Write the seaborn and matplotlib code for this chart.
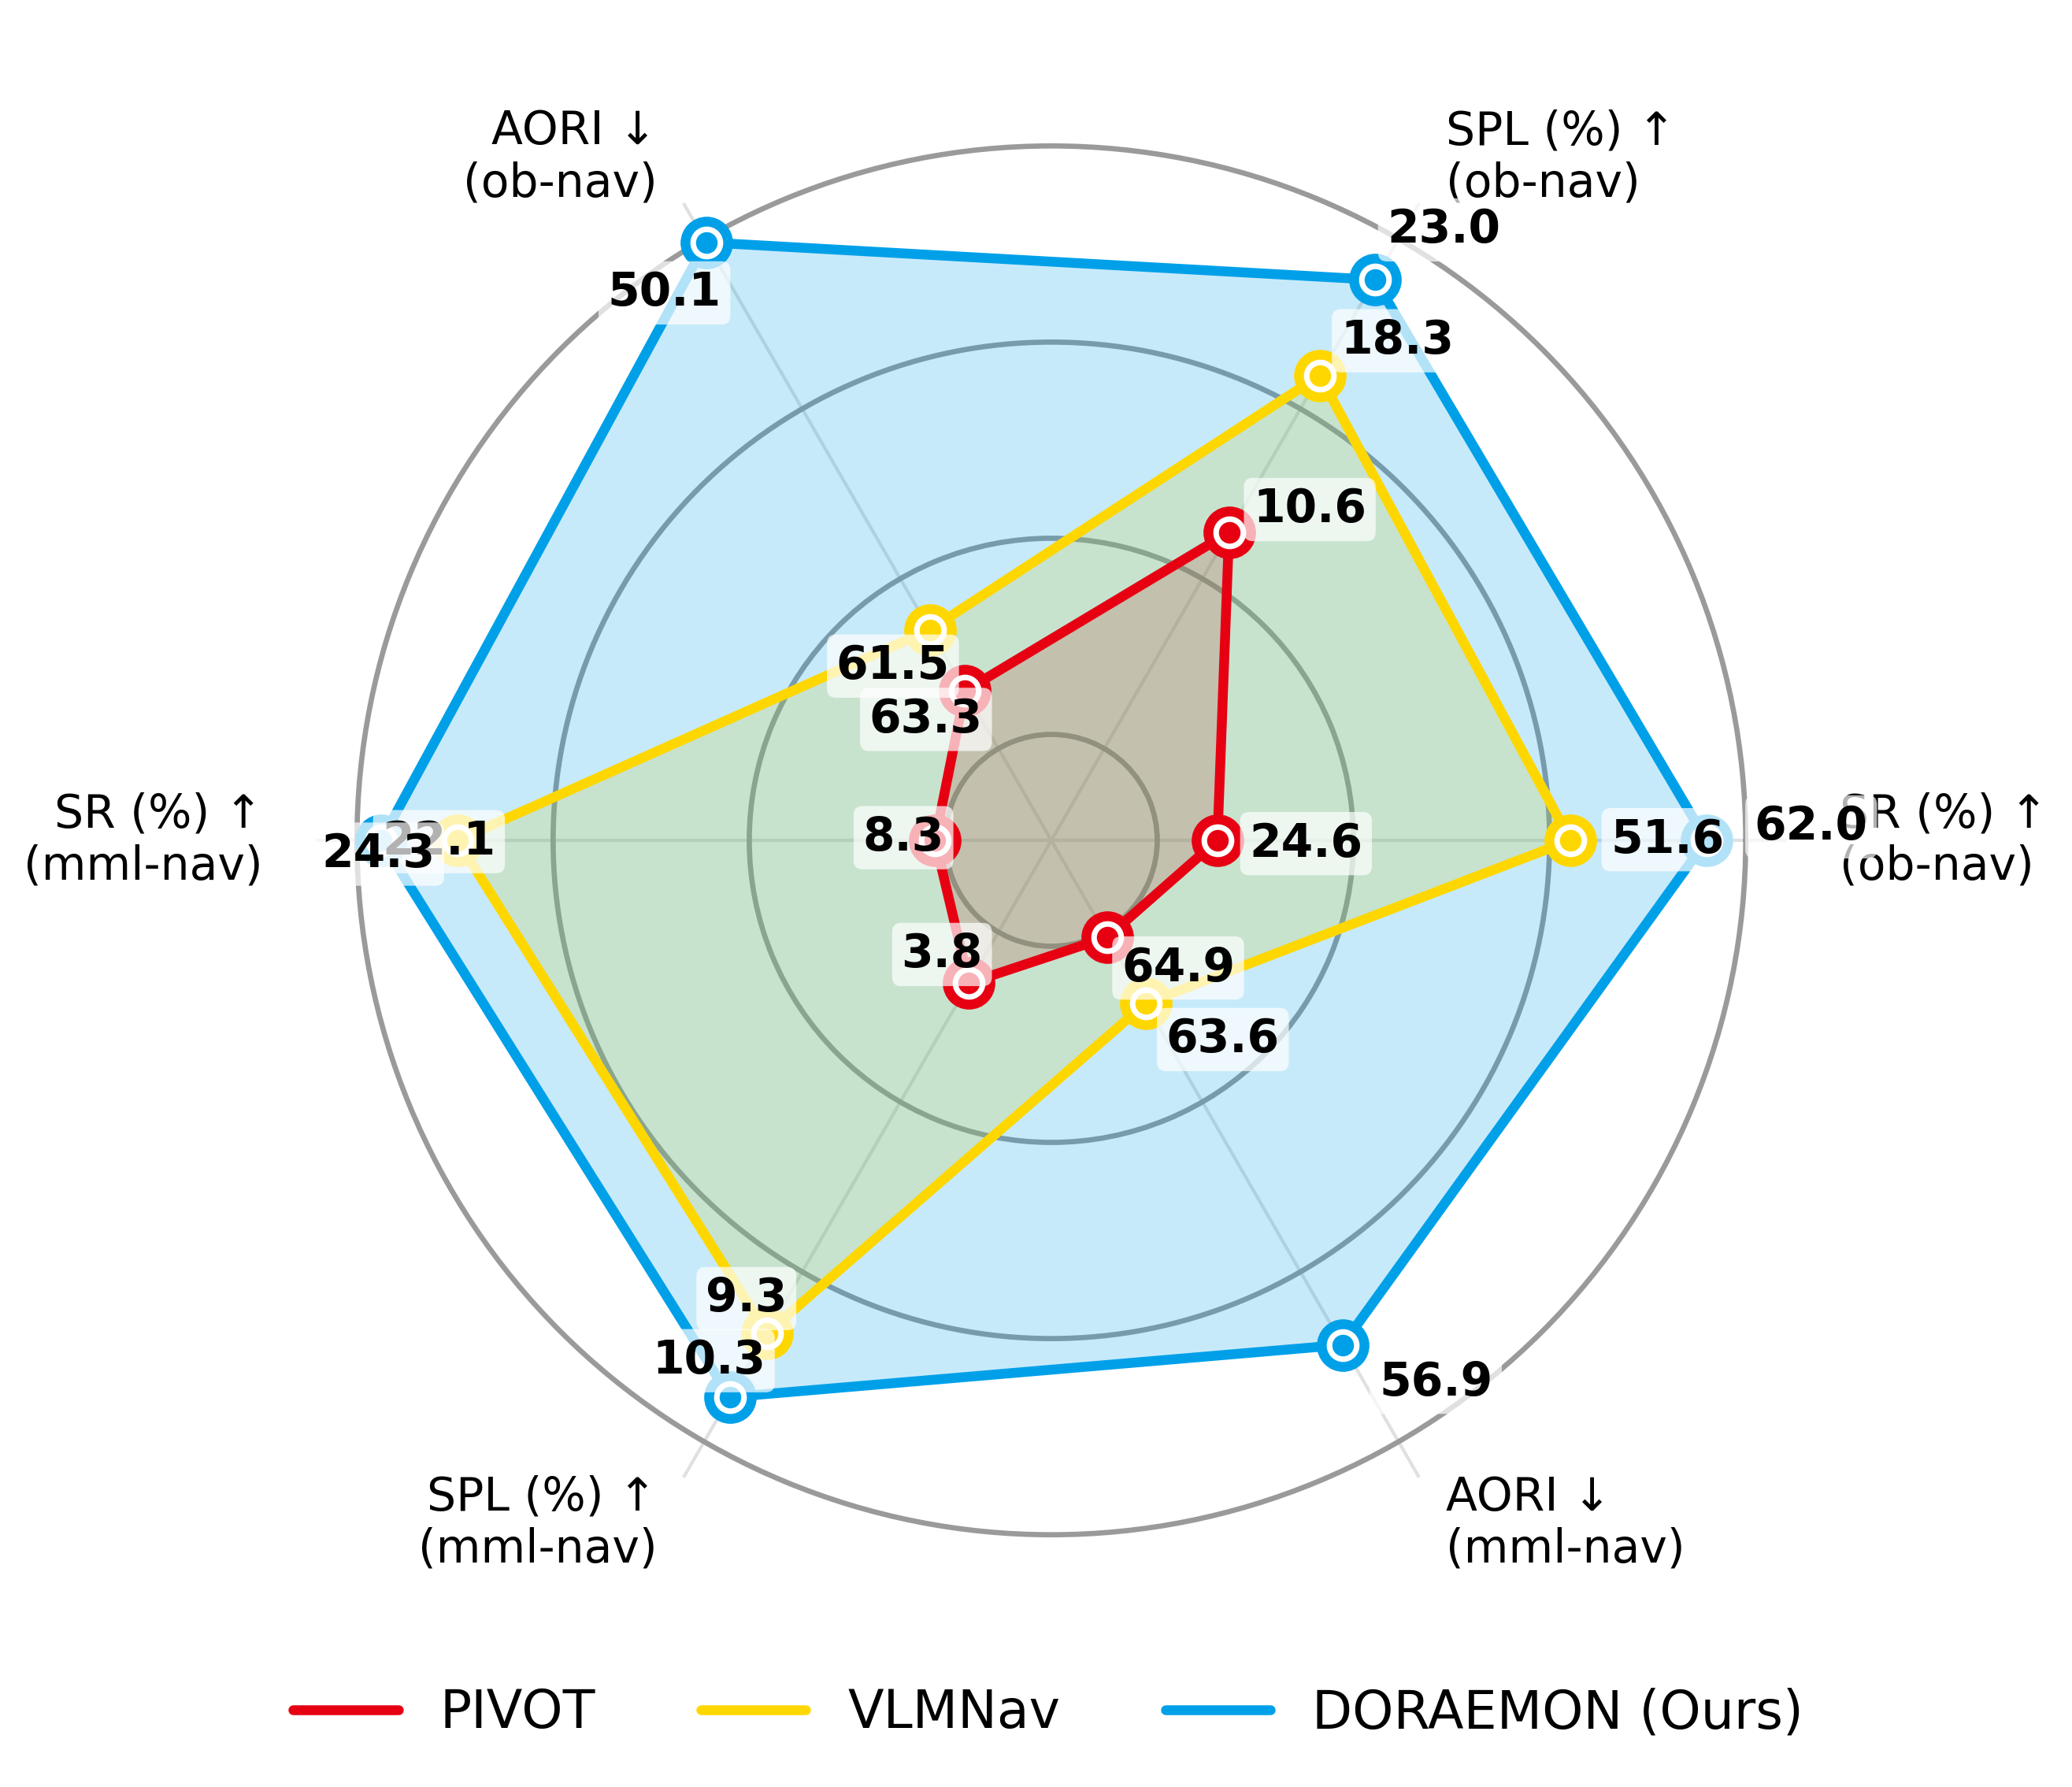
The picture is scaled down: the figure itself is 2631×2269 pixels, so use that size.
import matplotlib
matplotlib.use("Agg")
import matplotlib.pyplot as plt
import numpy as np
import pandas as pd
import seaborn as sns
from matplotlib.lines import Line2D

sns.set_theme(style="white")
plt.rcParams["font.family"] = ["DejaVu Sans"]
plt.rcParams["text.color"] = "black"

# --- data ---------------------------------------------------------------
axis_labels = [
    "SR (%) ↑\n(ob-nav)",
    "SPL (%) ↑\n(ob-nav)",
    "AORI ↓\n(ob-nav)",
    "SR (%) ↑\n(mml-nav)",
    "SPL (%) ↑\n(mml-nav)",
    "AORI ↓\n(mml-nav)",
]
methods = ["PIVOT", "VLMNav", "DORAEMON (Ours)"]
pivot = [24.6, 10.6, 63.3, 8.3, 3.8, 64.9]
vlmnav = [51.6, 18.3, 61.5, 22.1, 9.3, 63.6]
doraemon = [62.0, 23.0, 50.1, 24.3, 10.3, 56.9]

# per-axis display range (value at inner ring / value at outer ring)
axis_low = [20, 0, 50, 8, 3, 55]
axis_high = [65, 25, 65, 25, 11, 65]
higher_better = [True, True, False, True, True, False]

colors = {"PIVOT": "#E60012", "VLMNav": "#FFD700", "DORAEMON (Ours)": "#00A0E9"}
scores = {"PIVOT": pivot, "VLMNav": vlmnav, "DORAEMON (Ours)": doraemon}

# value label offsets in points (style only)
label_offsets = {
    "PIVOT": [(27, -1), (24.6, 7), (-11.9, -8.7), (-9.6, 0.8), (-8.2, 8.7), (21.6, -9.4)],
    "VLMNav": [(29.6, 0.2), (23.8, 10.6), (-11.2, -11.1), (-5.6, -0.4), (-6.2, 10.6), (23.6, -11)],
    "DORAEMON (Ours)": [(31.9, 4.1), (21.0, 15.2), (-12.7, -15.4), (-0.9, -4.2), (-6.4, 11.1), (28.4, -11.4)],
}


def normalize(vals):
    v = np.asarray(vals, dtype=float)
    lo = np.asarray(axis_low, dtype=float)
    hi = np.asarray(axis_high, dtype=float)
    up = (v - lo) / (hi - lo)
    down = (hi - v) / (hi - lo)
    return np.where(higher_better, up, down)


angles = np.deg2rad(np.arange(0, 360, 60))
closed_angles = np.append(angles, 2 * np.pi)

rows = []
for name in methods:
    r = normalize(scores[name])
    for th, rv in zip(closed_angles, np.append(r, r[0])):
        rows.append({"theta": th, "r": rv, "method": name})
df = pd.DataFrame(rows)

# --- figure ---------------------------------------------------------------
fig = plt.figure(figsize=(2631 / 300, 2269 / 300), dpi=300)
ax = fig.add_axes([0.1524, 0.1181, 0.7100, 0.8233], projection="polar")
ax.set_axisbelow(True)

for name in methods:
    r = normalize(scores[name])
    ax.fill(closed_angles, np.append(r, r[0]), color=colors[name], alpha=0.22, lw=0, zorder=2)

sns.lineplot(data=df, x="theta", y="r", hue="method", palette=colors, sort=False,
             estimator=None, lw=3, legend=False, ax=ax, zorder=3)

for name in methods:
    c = colors[name]
    r = normalize(scores[name])
    ax.plot(angles, r, ls="none", marker="o", ms=15, mfc=c, mec=c, mew=1, zorder=4)
    ax.plot(angles, r, ls="none", marker="o", ms=8.3, mfc=c, mec="white", mew=1.7, zorder=4)

for name in methods:
    r = normalize(scores[name])
    for th, rv, v, off in zip(angles, r, scores[name], label_offsets[name]):
        ax.annotate(f"{v:.1f}", xy=(th, rv), xytext=off, textcoords="offset points",
                    ha="center", va="center", fontsize=14, fontweight="bold", color="black",
                    bbox=dict(boxstyle="round,pad=0.2", fc="white", ec="none", alpha=0.7),
                    zorder=6)

for th, lab in zip(angles, axis_labels):
    c = np.cos(th)
    ha = "left" if c > 0.01 else ("right" if c < -0.01 else "center")
    ax.text(th, 1.16, lab, ha=ha, va="center", fontsize=14, color="black", zorder=5)

ax.set_ylim(-0.18, 1.07)
ax.set_yticks([0, 1 / 3, 2 / 3, 1])
ax.set_yticklabels([])
ax.set_xticks(angles)
ax.set_xticklabels([])
ax.set_xlabel("")
ax.set_ylabel("")
ax.tick_params(length=0)
ax.yaxis.grid(True, color="#9a9a9a", lw=1.6)
ax.xaxis.grid(True, color="#e0e0e0", lw=1.0)
ax.spines["polar"].set_visible(False)
ax.set_facecolor("white")

handles = [Line2D([0], [0], color=colors[m], lw=3) for m in methods]
fig.legend(handles, methods, loc="center", bbox_to_anchor=(0.506, 0.0414), ncol=3,
           frameon=False, fontsize=16, handlelength=2.0, columnspacing=2.0,
           labelcolor="black")

fig.savefig("out.png", dpi=300)
